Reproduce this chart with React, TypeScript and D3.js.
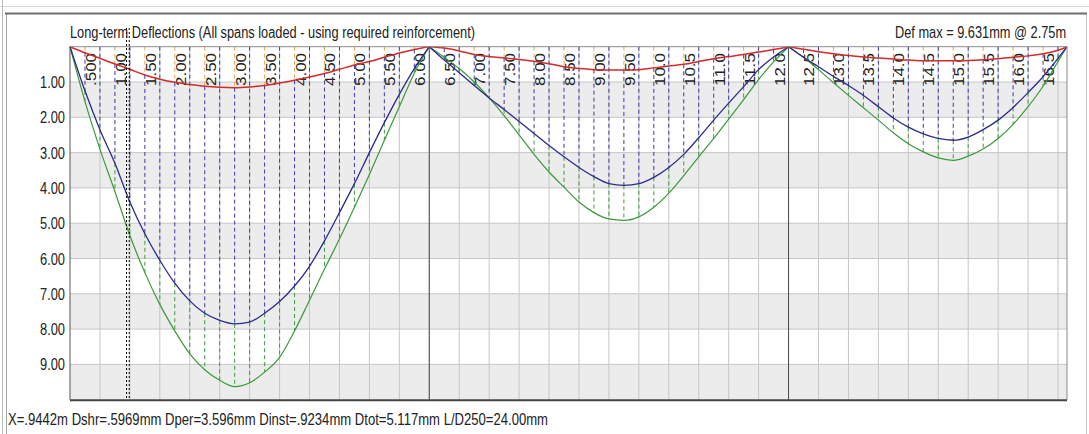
import React from "react";
import * as d3 from "d3";

// span supports (m)
const supports = [0, 6, 12, 16.65];

// deflections, every 0.25 m (mm)
// span 1 : 0 .. 6.0
const shr1 = [0, 0.17, 0.33, 0.49, 0.64, 0.8, 0.92, 1.01, 1.07, 1.12, 1.15, 1.16, 1.14, 1.1, 1.03, 0.95, 0.86, 0.76, 0.64, 0.52, 0.42, 0.3, 0.18, 0.08, 0];
const long1 = [0, 1.25, 2.35, 3.3, 4.4, 5.3, 6.05, 6.7, 7.2, 7.55, 7.75, 7.85, 7.8, 7.55, 7.22, 6.78, 6.22, 5.5, 4.7, 3.88, 3.0, 2.15, 1.35, 0.62, 0];
const tot1 = [0, 1.55, 2.9, 4.1, 5.35, 6.4, 7.3, 8.05, 8.7, 9.15, 9.45, 9.63, 9.52, 9.22, 8.8, 8.05, 7.18, 6.3, 5.45, 4.55, 3.62, 2.65, 1.7, 0.75, 0];
// span 2 : 6.0 .. 12.0
const shr2 = [0, 0.04, 0.12, 0.22, 0.28, 0.32, 0.36, 0.41, 0.48, 0.57, 0.62, 0.65, 0.66, 0.66, 0.65, 0.6, 0.55, 0.5, 0.42, 0.34, 0.28, 0.22, 0.15, 0.08, 0];
const long2 = [0, 0.38, 0.74, 1.1, 1.45, 1.78, 2.12, 2.46, 2.8, 3.12, 3.42, 3.68, 3.88, 3.93, 3.88, 3.7, 3.42, 3.05, 2.58, 2.08, 1.6, 1.13, 0.65, 0.29, 0];
const tot2 = [0, 0.3, 0.62, 1.0, 1.45, 1.95, 2.5, 3.05, 3.55, 3.98, 4.4, 4.7, 4.88, 4.92, 4.82, 4.55, 4.15, 3.65, 3.12, 2.6, 2.05, 1.5, 0.93, 0.43, 0];
// span 3 : 12.0 .. 16.65
const shr3 = [0, 0.07, 0.14, 0.2, 0.25, 0.29, 0.32, 0.35, 0.38, 0.4, 0.4, 0.4, 0.39, 0.37, 0.34, 0.3, 0.26, 0.2, 0.1, 0];
const long3 = [0, 0.3, 0.57, 0.84, 1.1, 1.38, 1.7, 2.02, 2.28, 2.47, 2.6, 2.65, 2.56, 2.35, 2.08, 1.72, 1.3, 0.85, 0.33, 0];
const tot3 = [0, 0.3, 0.65, 1.02, 1.38, 1.73, 2.08, 2.44, 2.75, 2.98, 3.15, 3.22, 3.1, 2.9, 2.6, 2.2, 1.7, 1.12, 0.42, 0];

const stationLabels = [".500", "1.00", "1.50", "2.00", "2.50", "3.00", "3.50", "4.00", "4.50", "5.00", "5.50", "6.00", "6.50", "7.00", "7.50", "8.00", "8.50", "9.00", "9.50", "10.0", "10.5", "11.0", "11.5", "12.0", "12.5", "13.0", "13.5", "14.0", "14.5", "15.0", "15.5", "16.0", "16.5"];
const yTicks = [1, 2, 3, 4, 5, 6, 7, 8, 9];

const cursorX = 0.9442;
const title = "Long-term  Deflections  (All spans loaded - using required reinforcement)";
const defMax = "Def max = 9.631mm @ 2.75m";
const status = "X=.9442m  Dshr=.5969mm  Dper=3.596mm  Dinst=.9234mm  Dtot=5.117mm  L/D250=24.00mm";

const FONT = "'Liberation Sans Narrow', 'Arial Narrow', 'Liberation Sans', Arial, sans-serif";

const spans = [
  { xs: [...d3.range(0, 6.001, 0.25)], shr: shr1, long: long1, tot: tot1 },
  { xs: [...d3.range(6, 12.001, 0.25)], shr: shr2, long: long2, tot: tot2 },
  { xs: [...d3.range(12, 16.501, 0.25), 16.65], shr: shr3, long: long3, tot: tot3 },
];

export default function App() {
  const x = d3.scaleLinear().domain([0, 16.65]).range([70, 1067]);
  const y = d3.scaleLinear().domain([0, 10]).range([46.7, 399.7]);

  const line = d3
    .line<[number, number]>()
    .x((d) => x(d[0]))
    .y((d) => y(d[1]))
    .curve(d3.curveMonotoneX);

  const gridX = d3.range(0.5, 16.6, 0.5);
  const bands = [1, 3, 5, 7, 9];

  // stacked dashed drop lines: shrinkage / permanent / instantaneous
  const dashes: JSX.Element[] = [];
  spans.forEach((s, si) => {
    s.xs.forEach((xv, i) => {
      if (i === 0 || i === s.xs.length - 1) return;
      const px = x(xv);
      const half = Math.abs(xv * 2 - Math.round(xv * 2)) < 1e-6;
      const k = `${si}-${i}`;
      if (half) {
        dashes.push(<line key={k + "a"} x1={px} x2={px} y1={y(0)} y2={y(s.long[i])} stroke="#3a3aa8" strokeDasharray="4,3" />);
      } else {
        dashes.push(<line key={k + "a"} x1={px} x2={px} y1={y(0)} y2={y(s.shr[i])} stroke="#e6a848" strokeDasharray="4,3" />);
        dashes.push(<line key={k + "b"} x1={px} x2={px} y1={y(s.shr[i])} y2={y(s.long[i])} stroke="#3a3aa8" strokeDasharray="4,3" />);
      }
      dashes.push(<line key={k + "c"} x1={px} x2={px} y1={y(s.long[i])} y2={y(s.tot[i])} stroke="#3c9c3c" strokeDasharray="4,3" />);
    });
  });

  const cx = x(cursorX);

  return (
    <svg width={1089} height={434} style={{ position: "absolute", left: 0, top: 0, background: "#fff" }} fontFamily={FONT}>
      {/* window frame */}
      <line x1={0} x2={1089} y1={6.5} y2={6.5} stroke="#d6d6d6" />
      <line x1={2.5} x2={2.5} y1={0} y2={434} stroke="#b8b8b8" />
      <line x1={6.5} x2={6.5} y1={13} y2={434} stroke="#a8a8a8" />
      <line x1={1086.5} x2={1086.5} y1={13} y2={434} stroke="#c8c8c8" />
      <line x1={5} x2={1087} y1={13.5} y2={13.5} stroke="#6e6e6e" strokeWidth={2} />

      {/* bands + grid */}
      {bands.map((b) => (
        <rect key={b} x={x(0)} y={y(b)} width={x(16.65) - x(0)} height={y(Math.min(b + 1, 10)) - y(b)} fill="#ececec" />
      ))}
      {gridX.map((g) => (
        <line key={g} x1={x(g)} x2={x(g)} y1={y(0)} y2={y(10)} stroke="#c6c6c6" />
      ))}
      {yTicks.map((t) => (
        <line key={t} x1={x(0)} x2={x(16.65)} y1={y(t)} y2={y(t)} stroke="#c6c6c6" />
      ))}

      {dashes}

      {/* station labels */}
      {stationLabels.map((s, i) => {
        const px = x((i + 1) * 0.5) - 4;
        return (
          <text key={s} transform={`translate(${px},86) rotate(-90)`} fontSize={14} fill="#222" textLength={33} lengthAdjust="spacingAndGlyphs">
            {s}
          </text>
        );
      })}

      {/* curves */}
      {spans.map((s, si) => {
        const pts = (arr: number[]) => s.xs.map((xv, i) => [xv, arr[i]] as [number, number]);
        return (
          <g key={si} fill="none">
            <path d={line(pts(s.tot)) || ""} stroke="#3a9a3a" strokeWidth={1.2} />
            <path d={line(pts(s.long)) || ""} stroke="#2c2c8c" strokeWidth={1.3} />
            <path d={line(pts(s.shr)) || ""} stroke="#d42a2a" strokeWidth={1.5} />
          </g>
        );
      })}

      {/* supports and axes */}
      {supports.slice(1, 3).map((s) => (
        <line key={s} x1={x(s)} x2={x(s)} y1={y(0)} y2={y(10)} stroke="#4a4a4a" />
      ))}
      <line x1={x(0)} x2={x(16.65)} y1={y(0)} y2={y(0)} stroke="#8a8a8a" />
      <line x1={x(0)} x2={x(0)} y1={y(0)} y2={y(10)} stroke="#555" />
      <line x1={x(16.65)} x2={x(16.65)} y1={y(0)} y2={y(10)} stroke="#8a8a8a" />
      <line x1={x(0)} x2={x(16.65)} y1={y(10) + 0.5} y2={y(10) + 0.5} stroke="#444" strokeWidth={2} />

      {yTicks.map((t) => (
        <text key={t} x={40} y={y(t) + 6} fontSize={16} fill="#222" textLength={25} lengthAdjust="spacingAndGlyphs">
          {t.toFixed(2)}
        </text>
      ))}

      {/* cursor */}
      <line x1={cx} x2={cx} y1={28} y2={y(10)} stroke="#000" strokeDasharray="2,2" />
      <line x1={cx + 2.7} x2={cx + 2.7} y1={28} y2={y(10)} stroke="#000" strokeDasharray="2,2" />

      <text x={70} y={38} fontSize={16} fill="#222" textLength={405} lengthAdjust="spacingAndGlyphs">
        {title}
      </text>
      <text transform="translate(895,38) scale(0.8,1)" fontSize={16} fill="#222">
        {defMax}
      </text>
      <text x={8} y={425} fontSize={16} fill="#222" textLength={540} lengthAdjust="spacingAndGlyphs">
        {status}
      </text>
    </svg>
  );
}
